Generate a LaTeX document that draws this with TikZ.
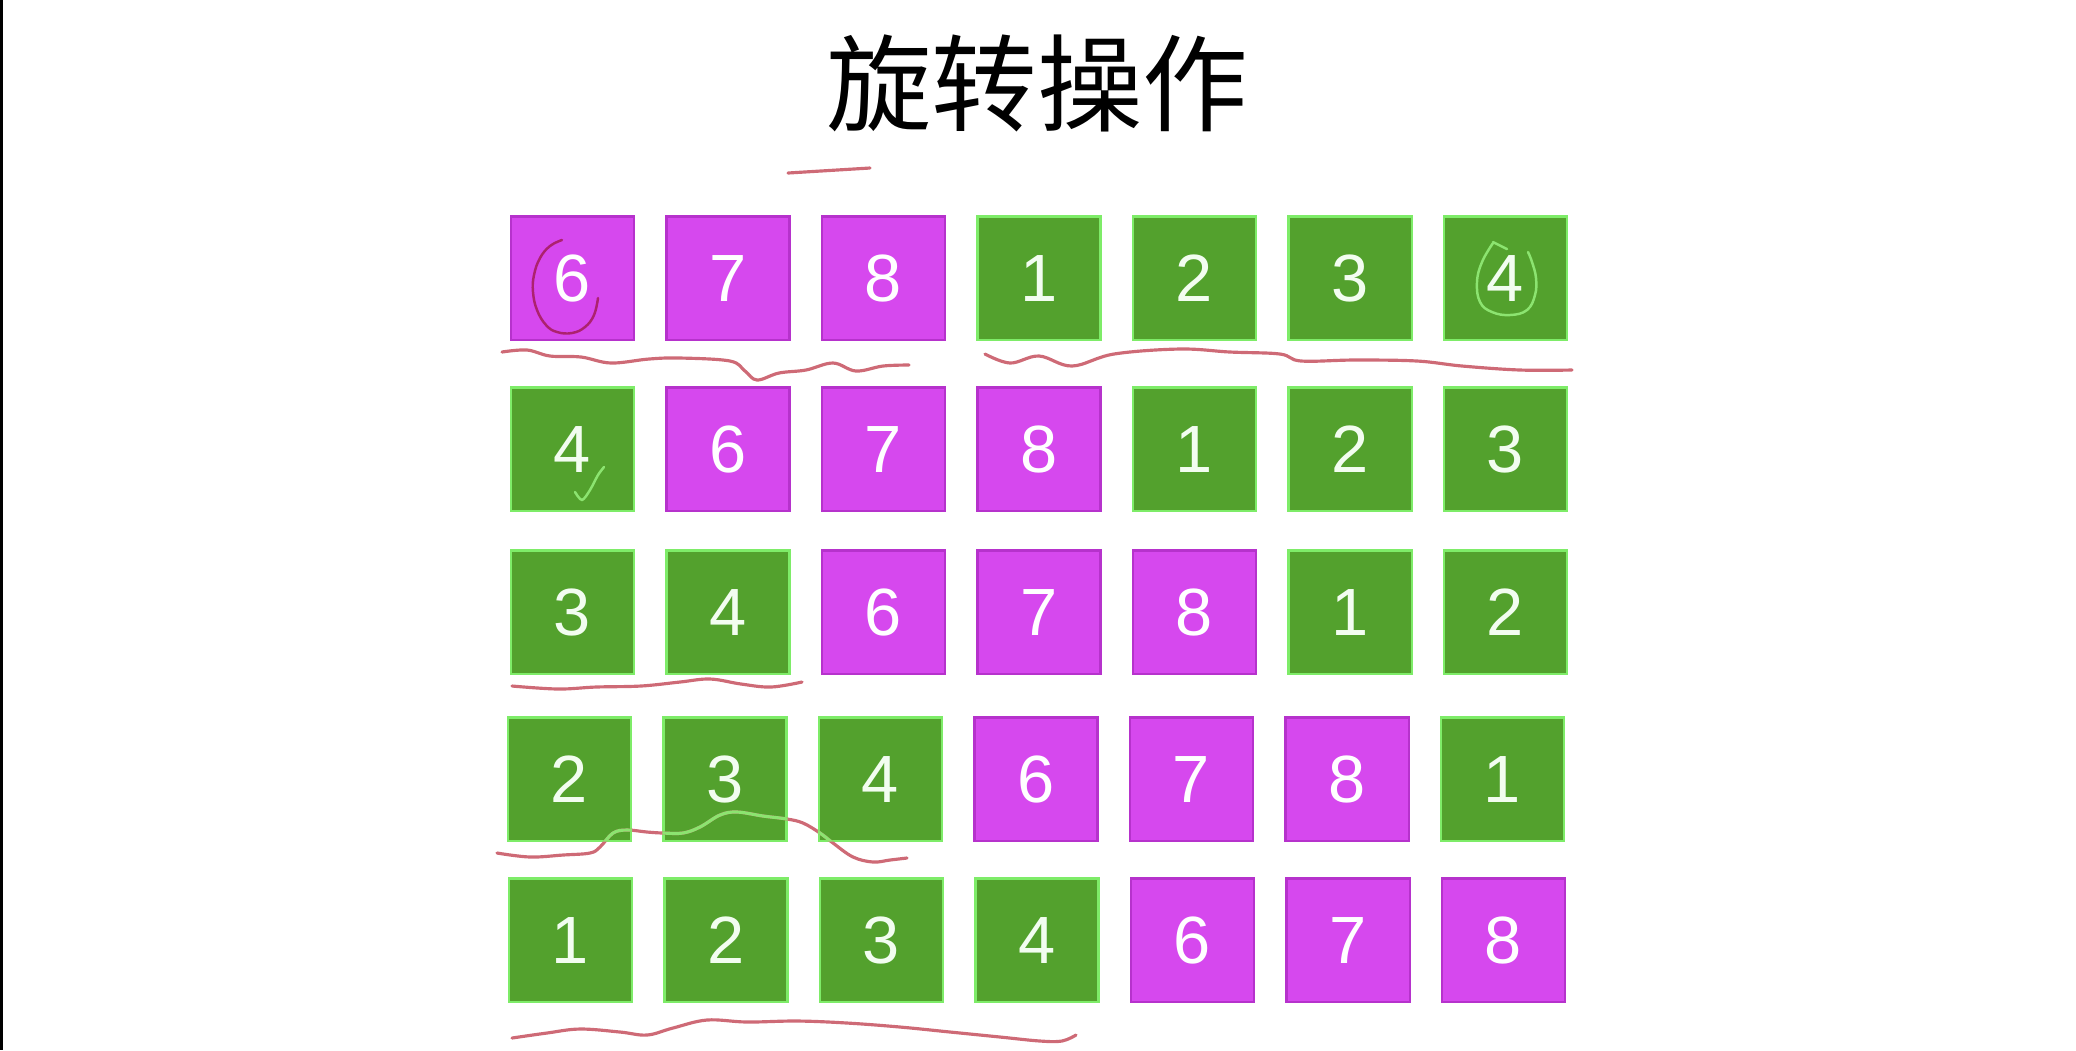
\documentclass[tikz,border=0pt]{standalone}
\usepackage{fontspec}
\setmainfont{Liberation Sans}
\newfontfamily\cjk{Noto Sans CJK SC}
\usepackage{tikz}
\definecolor{PP}{RGB}{214, 72, 238}
\definecolor{PPedge}{RGB}{182, 50, 204}
\definecolor{GG}{RGB}{83, 161, 45}
\definecolor{GGedge}{RGB}{126, 236, 104}
\definecolor{ink}{RGB}{206, 106, 118}
\definecolor{mark}{RGB}{140, 228, 112}
\definecolor{loop}{RGB}{172, 34, 110}
\tikzset{
    cell/.style={rectangle, minimum size=1.23cm, inner sep=0pt, line width=0.6pt, font=\fontsize{19}{22}\selectfont},
    pinkcell/.style={cell, fill=PP, draw=PPedge, text=white},
    greencell/.style={cell, fill=GG, draw=GGedge, text=white!90!GGedge},
    scribble/.style={draw=ink, line width=0.9pt, line cap=round, line join=round},
}

\begin{document}
\begin{tikzpicture}[x=0.01cm, y=-0.01cm]
\useasboundingbox (0,0) rectangle (2076,1050);
\fill[black] (0,0) rectangle (3,1050);

\node[font=\cjk\fontsize{30}{36}\selectfont] (title) at (1037,83) {旋转操作};

% row / y centre / x shift / numbers
\foreach \r/\yy/\dx/\seq in {1/278/0/{6,7,8,1,2,3,4}, 2/449/0/{4,6,7,8,1,2,3},
    3/612/0/{3,4,6,7,8,1,2}, 4/779/-3/{2,3,4,6,7,8,1}, 5/940/-2/{1,2,3,4,6,7,8}}{
  \foreach \v [count=\c] in \seq {
    \ifnum\v>5
      \node[pinkcell] (r\r-\c) at ({572.5+155.5*(\c-1)+\dx}, \yy) {\v};
    \else
      \node[greencell] (r\r-\c) at ({572.5+155.5*(\c-1)+\dx}, \yy) {\v};
    \fi
  }
}

% hand marks
\draw[scribble] (788,173) -- (870,168);
\draw[scribble] plot[smooth, tension=0.6] coordinates {(502,352) (527,350) (550,356) (581,357) (611,363)
  (649,359) (680,358) (730,361) (745,371) (757,380) (779,373) (806,370) (833,363) (856,371) (883,366) (909,365)};
\draw[scribble] plot[smooth, tension=0.6] coordinates {(985,354) (1010,363) (1039,356) (1072,366) (1114,354)
  (1180,349) (1230,352) (1280,354) (1301,361) (1355,360) (1417,361) (1462,366) (1520,370) (1572,370)};
\draw[scribble] plot[smooth, tension=0.6] coordinates {(512,686) (558,689) (596,687) (641,686) (680,682)
  (710,679) (741,684) (771,687) (802,682)};
\draw[scribble] plot[smooth, tension=0.6] coordinates {(497,853) (530,857) (563,855) (590,853) (600,847)
  (613,833) (627,830) (647,832) (663,833) (683,833) (700,827) (720,815) (737,812) (763,816) (787,819)
  (803,823) (820,833) (833,843) (853,857) (873,862) (890,860) (907,858)};
\begin{scope}
  \clip (r4-1.north west) rectangle (r4-1.south east) (r4-2.north west) rectangle (r4-2.south east)
        (r4-3.north west) rectangle (r4-3.south east);
  \draw[scribble, draw=mark] plot[smooth, tension=0.6] coordinates {(497,853) (530,857) (563,855) (590,853) (600,847)
    (613,833) (627,830) (647,832) (663,833) (683,833) (700,827) (720,815) (737,812) (763,816) (787,819)
    (803,823) (820,833) (833,843) (853,857) (873,862) (890,860) (907,858)};
\end{scope}
\draw[scribble] plot[smooth, tension=0.6] coordinates {(512,1038) (547,1033) (580,1029) (620,1032) (647,1035)
  (673,1028) (707,1020) (747,1022) (797,1021) (847,1023) (900,1027) (950,1032) (1000,1037) (1040,1041)
  (1062,1041) (1076,1035)};

\draw[scribble, draw=loop, line width=0.7pt] plot[smooth, tension=0.7] coordinates {(562,240) (550,246) (540,258)
  (534,275) (533,292) (537,310) (546,325) (557,332) (572,333) (585,327) (594,315) (598,298)};
\draw[scribble, draw=mark, line width=0.7pt] plot[smooth, tension=0.7] coordinates {(1493,243) (1482,262) (1477,282)
  (1480,302) (1492,312) (1510,315) (1527,310) (1535,295) (1536,278) (1532,262) (1528,252)};
\draw[scribble, draw=mark, line width=0.7pt] (1493,242) -- (1507,249);
\draw[scribble, draw=mark, line width=0.7pt] plot[smooth, tension=0.5] coordinates {(575,492) (582,500)
  (590,490) (598,475) (604,467)};
\end{tikzpicture}
\end{document}
